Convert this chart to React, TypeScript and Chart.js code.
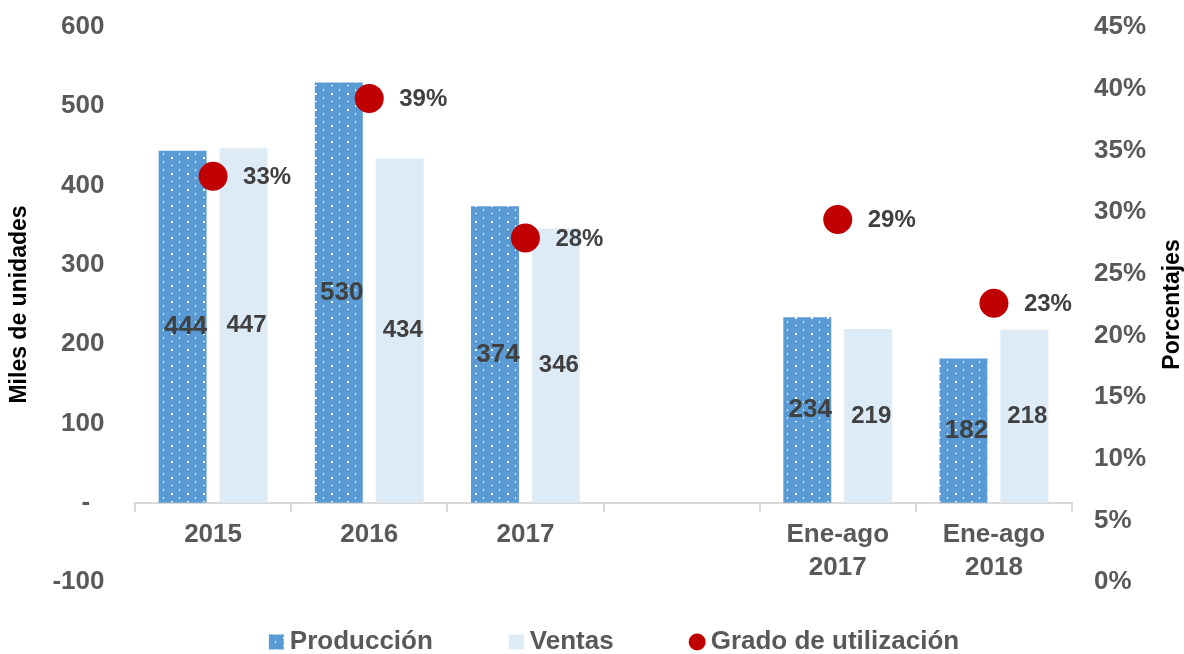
import React, { useEffect, useRef } from 'react';
import { Chart, registerables } from 'chart.js';

Chart.register(...registerables);

const FONT = "'Liberation Sans', Arial, Helvetica, sans-serif";

const categories: (string | string[])[] = ['2015', '2016', '2017', '', ['Ene-ago', '2017'], ['Ene-ago', '2018']];
const produccion: (number | null)[] = [444, 530, 374, null, 234, 182];
const ventas: (number | null)[] = [447, 434, 346, null, 219, 218];
const utilizacion: (number | null)[] = [32.9, 39.2, 27.9, null, 29.4, 22.6];

const seriesNames = ['Producción', 'Ventas', 'Grado de utilización'];
const leftAxisTitle = 'Miles de unidades';
const rightAxisTitle = 'Porcentajes';
const leftMin = -100;
const leftMax = 600;
const leftStep = 100;
const rightMin = 0;
const rightMax = 45;
const rightStep = 5;

const BLUE = '#5B9BD5';
const LIGHT = '#DDEBF7';
const RED = '#C00000';
const TICK = '#595959';
const LABEL = '#404040';

function makePattern(): CanvasPattern | string {
  const c = document.createElement('canvas');
  c.width = 16;
  c.height = 16;
  const g = c.getContext('2d');
  if (!g) return BLUE;
  g.fillStyle = BLUE;
  g.fillRect(0, 0, 16, 16);
  g.fillStyle = 'rgba(255,255,255,0.95)';
  g.fillRect(3, 1, 1, 2);
  g.fillRect(3, 9, 1, 2);
  g.fillRect(11, 5, 2, 1);
  g.fillRect(11, 13, 2, 2);
  const p = g.createPattern(c, 'repeat');
  return p || BLUE;
}

const labelsPlugin = {
  id: 'valueLabels',
  afterDatasetsDraw(chart: any) {
    const ctx = chart.ctx;
    ctx.save();
    chart.data.datasets.forEach((d: any, i: number) => {
      const meta = chart.getDatasetMeta(i);
      meta.data.forEach((el: any, j: number) => {
        const v = d.data[j];
        if (v == null) return;
        if (meta.type === 'bar') {
          const p = el.getProps(['x', 'y', 'base'], true);
          ctx.font = `bold ${i === 0 ? 26 : 24}px ${FONT}`;
          ctx.fillStyle = LABEL;
          ctx.textAlign = 'center';
          ctx.textBaseline = 'middle';
          ctx.fillText(String(v), p.x + 3, (p.y + p.base) / 2);
        } else {
          const p = el.getProps(['x', 'y'], true);
          ctx.font = `bold 24px ${FONT}`;
          ctx.fillStyle = LABEL;
          ctx.textAlign = 'left';
          ctx.textBaseline = 'middle';
          ctx.fillText(Math.round(v) + '%', p.x + 30, p.y + 1);
        }
      });
    });
    ctx.restore();
  },
};

const legendPlugin = {
  id: 'customLegend',
  afterDraw(chart: any) {
    const ctx = chart.ctx;
    ctx.save();
    ctx.font = `bold 26px ${FONT}`;
    const box = 15;
    const gapText = 6;
    const gapItem = 76;
    const items = chart.data.datasets.map((d: any) => ({
      text: d.label,
      w: ctx.measureText(d.label).width,
      color: d.backgroundColor,
      circle: d.type === 'line',
    }));
    let total = 0;
    items.forEach((it: any, k: number) => {
      total += box + gapText + it.w + (k > 0 ? gapItem : 0);
    });
    let x = chart.width / 2 + 22 - total / 2;
    const y = 642;
    items.forEach((it: any) => {
      ctx.fillStyle = it.color;
      if (it.circle) {
        ctx.beginPath();
        ctx.arc(x + box / 2, y, 8.5, 0, Math.PI * 2);
        ctx.fill();
      } else {
        ctx.fillRect(x, y - box / 2, box, box);
      }
      ctx.fillStyle = TICK;
      ctx.textAlign = 'left';
      ctx.textBaseline = 'middle';
      ctx.fillText(it.text, x + box + gapText, y);
      x += box + gapText + it.w + gapItem;
    });
    // right axis title (reads bottom to top)
    const { top, bottom } = chart.chartArea;
    ctx.translate(chart.width - 11.5, (top + bottom) / 2);
    ctx.rotate(-Math.PI / 2);
    ctx.font = `bold 23px ${FONT}`;
    ctx.fillStyle = '#000000';
    ctx.textAlign = 'center';
    ctx.textBaseline = 'middle';
    ctx.fillText(rightAxisTitle, 0, 0);
    ctx.restore();
  },
};

export default function App() {
  const ref = useRef<HTMLCanvasElement | null>(null);

  useEffect(() => {
    document.body.style.margin = '0';
    if (!ref.current) return;
    const pattern = makePattern();
    const chart = new Chart(ref.current, {
      type: 'bar',
      data: {
        labels: categories as any,
        datasets: [
          {
            type: 'bar',
            label: seriesNames[0],
            data: produccion,
            backgroundColor: pattern as any,
            borderWidth: 0,
            categoryPercentage: 0.78,
            barPercentage: 0.787,
            yAxisID: 'y',
            order: 1,
          },
          {
            type: 'bar',
            label: seriesNames[1],
            data: ventas,
            backgroundColor: LIGHT,
            borderWidth: 0,
            categoryPercentage: 0.78,
            barPercentage: 0.787,
            yAxisID: 'y',
            order: 1,
          },
          {
            type: 'line',
            label: seriesNames[2],
            data: utilizacion,
            backgroundColor: RED,
            borderColor: RED,
            showLine: false,
            pointRadius: 14.5,
            pointHoverRadius: 14.5,
            pointBorderWidth: 0,
            yAxisID: 'y1',
            order: 0,
          },
        ] as any,
      },
      options: {
        animation: false,
        responsive: false,
        events: [],
        layout: { padding: { top: 27, bottom: 72, left: 0, right: 0 } },
        plugins: {
          legend: { display: false },
          tooltip: { enabled: false },
        },
        scales: {
          x: {
            type: 'category',
            position: { y: 0 } as any,
            offset: true,
            grid: {
              display: true,
              drawOnChartArea: false,
              drawTicks: true,
              tickLength: 8,
              color: '#D9D9D9',
              lineWidth: 2,
              offset: true,
            },
            border: { display: true, color: '#D9D9D9', width: 2 },
            ticks: {
              autoSkip: false,
              maxRotation: 0,
              padding: 8,
              color: TICK,
              font: { family: FONT, size: 26, weight: 'bold', lineHeight: 1.25 },
            },
          },
          y: {
            type: 'linear',
            position: 'left',
            min: leftMin,
            max: leftMax,
            grid: { display: false, drawTicks: false },
            border: { display: false },
            afterFit: (s: any) => {
              s.width = 135;
              s.paddingTop = 0;
              s.paddingBottom = 0;
            },
            title: {
              display: true,
              text: leftAxisTitle,
              color: '#000000',
              padding: { top: 8.5, bottom: 0 },
              font: { family: FONT, size: 23, weight: 'bold', lineHeight: 1 },
            },
            ticks: {
              stepSize: leftStep,
              padding: 30.5,
              color: TICK,
              font: { family: FONT, size: 26, weight: 'bold' },
              callback: (v: any) => (Number(v) === 0 ? '-  ' : String(v)),
            },
          },
          y1: {
            type: 'linear',
            position: 'right',
            min: rightMin,
            max: rightMax,
            grid: { display: false, drawTicks: false },
            border: { display: false },
            afterFit: (s: any) => {
              s.width = 112;
              s.paddingTop = 0;
              s.paddingBottom = 0;
            },
            ticks: {
              stepSize: rightStep,
              padding: 22,
              color: TICK,
              font: { family: FONT, size: 26, weight: 'bold' },
              callback: (v: any) => `${v}%`,
            },
          },
        },
      } as any,
      plugins: [labelsPlugin, legendPlugin],
    });
    return () => chart.destroy();
  }, []);

  return (
    <div style={{ width: 1184, height: 654, background: '#ffffff' }}>
      <canvas ref={ref} width={1184} height={654} style={{ display: 'block' }} />
    </div>
  );
}
